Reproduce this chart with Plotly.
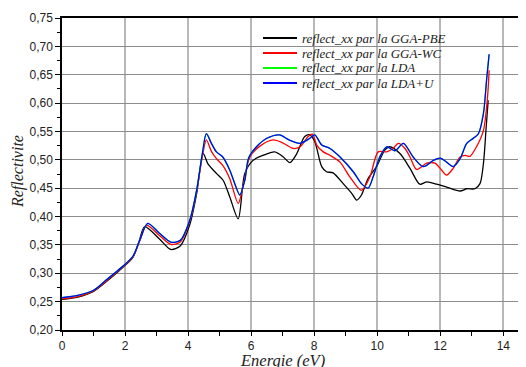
import plotly.graph_objects as go

# ---------------- data ----------------
energy_pbe = [0, 0.5, 1.0, 1.4, 1.9, 2.25, 2.45, 2.62, 3.1, 3.45, 3.75, 4.05, 4.27, 4.48, 4.63,
              4.9, 5.11, 5.32, 5.59, 5.8, 6.06, 6.38, 6.75, 7.02, 7.23, 7.44, 7.7, 7.86, 8.02,
              8.24, 8.39, 8.6, 8.92, 9.19, 9.35, 9.5, 9.71, 9.98, 10.24, 10.4, 10.72, 11.04,
              11.35, 11.57, 11.89, 12.2, 12.63, 12.84, 13.1, 13.26, 13.37, 13.45, 13.52]
refl_pbe = [0.254, 0.258, 0.268, 0.285, 0.309, 0.328, 0.357, 0.382, 0.360, 0.342, 0.348, 0.385,
            0.440, 0.511, 0.493, 0.476, 0.464, 0.435, 0.396, 0.476, 0.499, 0.508, 0.514, 0.505,
            0.495, 0.510, 0.541, 0.544, 0.532, 0.488, 0.479, 0.477, 0.458, 0.441, 0.429, 0.438,
            0.467, 0.488, 0.517, 0.523, 0.511, 0.485, 0.457, 0.461, 0.457, 0.452, 0.445, 0.449,
            0.449, 0.458, 0.494, 0.552, 0.605]

energy_wc = [0, 0.5, 1.0, 1.4, 1.9, 2.25, 2.47, 2.68, 3.1, 3.45, 3.75, 4.05, 4.27, 4.45, 4.58,
             4.74, 4.9, 5.1, 5.32, 5.59, 5.75, 5.96, 6.3, 6.7, 7.0, 7.33, 7.55, 7.81, 7.95, 8.08,
             8.29, 8.5, 8.82, 9.13, 9.5, 9.77, 10.03, 10.3, 10.5, 10.67, 10.88, 11.04, 11.25,
             11.57, 11.83, 12.04, 12.2, 12.41, 12.63, 12.79, 12.94, 13.15, 13.37, 13.5, 13.55]
refl_wc = [0.255, 0.259, 0.269, 0.286, 0.310, 0.329, 0.358, 0.385, 0.366, 0.351, 0.355, 0.391,
           0.445, 0.505, 0.535, 0.515, 0.502, 0.490, 0.467, 0.423, 0.455, 0.505, 0.525, 0.535,
           0.530, 0.520, 0.523, 0.541, 0.545, 0.526, 0.514, 0.508, 0.496, 0.470, 0.446, 0.470,
           0.514, 0.514, 0.520, 0.529, 0.520, 0.505, 0.483, 0.494, 0.494, 0.482, 0.473, 0.485,
           0.505, 0.508, 0.506, 0.523, 0.552, 0.611, 0.658]

energy_lda = [0, 0.5, 1.0, 1.4, 1.9, 2.25, 2.48, 2.72, 3.1, 3.45, 3.75, 4.05, 4.27, 4.45, 4.58,
              4.74, 4.9, 5.1, 5.32, 5.52, 5.64, 5.8, 5.92, 6.17, 6.5, 6.9, 7.2, 7.55, 7.86, 8.02,
              8.24, 8.5, 8.82, 9.24, 9.5, 9.71, 9.87, 10.08, 10.3, 10.56, 10.83, 11.14, 11.46,
              11.78, 12.0, 12.2, 12.41, 12.63, 12.84, 13.05, 13.21, 13.37, 13.47, 13.55]
refl_lda = [0.257, 0.261, 0.270, 0.288, 0.311, 0.330, 0.360, 0.388, 0.370, 0.355, 0.358, 0.393,
            0.446, 0.510, 0.546, 0.529, 0.514, 0.505, 0.482, 0.452, 0.438, 0.464, 0.503, 0.523,
            0.538, 0.544, 0.535, 0.529, 0.538, 0.544, 0.526, 0.520, 0.505, 0.479, 0.458, 0.450,
            0.470, 0.505, 0.523, 0.516, 0.529, 0.505, 0.488, 0.499, 0.503, 0.496, 0.488, 0.502,
            0.529, 0.538, 0.546, 0.582, 0.641, 0.686]

energy_ldau = list(energy_lda)
refl_ldau = list(refl_lda)

series_names = ["reflect_xx par la GGA-PBE", "reflect_xx par la GGA-WC",
                "reflect_xx par la LDA", "reflect_xx par la LDA+U"]
series_colors = ["#000000", "#ff0000", "#00ff00", "#0000ff"]

x_ticks = [0, 2, 4, 6, 8, 10, 12, 14]
y_ticks = [0.20, 0.25, 0.30, 0.35, 0.40, 0.45, 0.50, 0.55, 0.60, 0.65, 0.70, 0.75]

# ---------------- figure ----------------
OFF = 8                      # default page margin of the html body
VW, VH = 526, 367            # viewport
W, H = VW - OFF, VH - OFF    # figure size
# plot area in viewport pixels
PL, PR, PT, PB = 62, 526, 18, 330
ML, MR, MT, MB = PL - OFF, VW - PR, PT - OFF, VH - PB
X_RANGE = [0, 14.72]
Y_RANGE = [0.20, 0.75]

fig = go.Figure()
data = [(energy_pbe, refl_pbe), (energy_wc, refl_wc), (energy_lda, refl_lda), (energy_ldau, refl_ldau)]
for (ex, ry), name, col in zip(data, series_names, series_colors):
    fig.add_trace(go.Scatter(x=ex, y=ry, mode="lines", name=name,
                             line=dict(color=col, width=1.3, shape="spline", smoothing=0.8),
                             showlegend=False))

# viewport pixel -> paper helpers (for the hand-drawn legend box and titles)
def px_x(p):
    return (p - PL) / (PR - PL)
def px_y(p):
    return (PB - p) / (PB - PT)

shapes = [dict(type="rect", xref="paper", yref="paper", x0=px_x(242), x1=px_x(467),
               y0=px_y(97), y1=px_y(23), fillcolor="white", line=dict(width=0), layer="between")]
annotations = []
rows_y = [38, 53, 68, 83]
for name, col, ry in zip(series_names, series_colors, rows_y):
    shapes.append(dict(type="line", xref="paper", yref="paper", x0=px_x(263), x1=px_x(297),
                       y0=px_y(ry), y1=px_y(ry), line=dict(color=col, width=2), layer="above"))
    annotations.append(dict(xref="paper", yref="paper", x=px_x(300), y=px_y(ry), text="<i>" + name + "</i>",
                            showarrow=False, xanchor="left", yanchor="middle",
                            font=dict(family="Liberation Serif", size=13, color="#222222")))

annotations.append(dict(xref="x", yref="paper", x=7.0, y=px_y(360), text="<i>Energie (eV)</i>",
                        showarrow=False, xanchor="center", yanchor="middle",
                        font=dict(family="Liberation Serif", size=16.5, color="#222222")))
annotations.append(dict(xref="paper", yref="paper", x=px_x(18), y=px_y(172), text="<i>Reflectivite</i>",
                        showarrow=False, xanchor="center", yanchor="middle", textangle=-90,
                        font=dict(family="Liberation Serif", size=16, color="#222222")))

fig.update_layout(
    width=W, height=H,
    margin=dict(l=ML, r=MR, t=MT, b=MB, pad=0, autoexpand=False),
    paper_bgcolor="white", plot_bgcolor="white",
    separators=", ",
    shapes=shapes, annotations=annotations,
    font=dict(family="Liberation Sans", size=11, color="#222222"),
)
fig.update_xaxes(range=X_RANGE, tickvals=x_ticks, ticktext=[str(v) for v in x_ticks], automargin=False,
                 showline=True, linecolor="black", linewidth=2, mirror=True,
                 showgrid=True, gridcolor="#b8b8b8", gridwidth=1.5,
                 ticks="outside", ticklen=4, tickcolor="black", tickwidth=1,
                 minor=dict(dtick=1, tick0=0, ticks="outside", ticklen=4, tickcolor="black", showgrid=False),
                 zeroline=False, tickfont=dict(family="Liberation Sans", size=12, color="#222222"))
fig.update_yaxes(range=Y_RANGE, tickvals=y_ticks, tickformat=".2f", automargin=False,
                 showline=True, linecolor="black", linewidth=1.5,
                 showgrid=True, gridcolor="#8c8c8c", gridwidth=1,
                 ticks="outside", ticklen=5, tickcolor="black", tickwidth=1,
                 minor=dict(dtick=0.025, tick0=0.2, ticks="outside", ticklen=3, tickcolor="black", showgrid=False),
                 zeroline=False, tickfont=dict(family="Liberation Sans", size=12, color="#222222"))

fig.write_html("out.html")
